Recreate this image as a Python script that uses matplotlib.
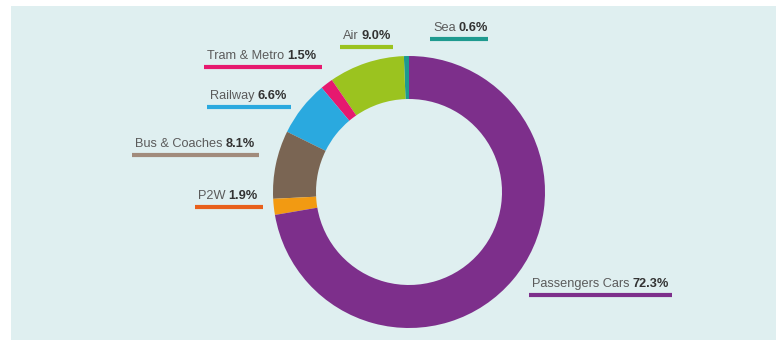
import matplotlib.pyplot as plt
from matplotlib.patches import Rectangle

# modal split of transport, share in percent
modes = ["Sea", "Air", "Tram & Metro", "Railway", "Bus & Coaches", "P2W", "Passengers Cars"]
shares = [0.6, 9.0, 1.5, 6.6, 8.1, 1.9, 72.3]
slice_colors = ["#1e9a8f", "#9bc31f", "#e6196f", "#2aa9df", "#7a6553", "#f29a12", "#7d2f8b"]
line_colors = ["#1e9a8f", "#9bc31f", "#e6196f", "#2aa9df", "#a18b7c", "#e8601c", "#7d2f8b"]

# label underline placement (x start, x end, y) in pixel units from top-left
label_pos = {
    "Sea": (430, 488, 39),
    "Air": (340, 393, 47),
    "Tram & Metro": (204, 322, 67),
    "Railway": (207, 291, 107),
    "Bus & Coaches": (132, 259, 155),
    "P2W": (195, 263, 207),
    "Passengers Cars": (529, 672, 295),
}

W, H = 776, 340
bg = "#dfeff0"

fig = plt.figure(figsize=(W / 100, H / 100), dpi=100)
fig.patch.set_facecolor("white")
ax = fig.add_axes([0, 0, 1, 1])

ax.add_patch(Rectangle((11, 0), W - 11, H - 6, facecolor=bg, edgecolor="none", zorder=0))

ax.pie(shares, colors=slice_colors, startangle=90, counterclock=True,
       center=(409, H - 192), radius=136, frame=True,
       wedgeprops=dict(width=43, linewidth=0))
ax.set_xlim(0, W)
ax.set_ylim(0, H)
ax.set_aspect("equal")
ax.axis("off")

fam = ["Liberation Sans", "DejaVu Sans"]
fsize = 9.2
renderer = fig.canvas.get_renderer()
for name, val, lc in zip(modes, shares, line_colors):
    x0, x1, yl = label_pos[name]
    y = H - yl
    ax.plot([x0, x1], [y, y], color=lc, linewidth=3, solid_capstyle="butt", zorder=3)
    t = ax.text(x0 + 3, y + 8, name, fontsize=fsize, family=fam,
                color="#5b5b5b", ha="left", va="baseline")
    bb = t.get_window_extent(renderer=renderer)
    ax.text(bb.x1 + 3, y + 8, f"{val:.1f}%", fontsize=fsize, family=fam,
            fontweight="bold", color="#333333", ha="left", va="baseline")

fig.savefig("out.png", dpi=100, facecolor=fig.get_facecolor())
